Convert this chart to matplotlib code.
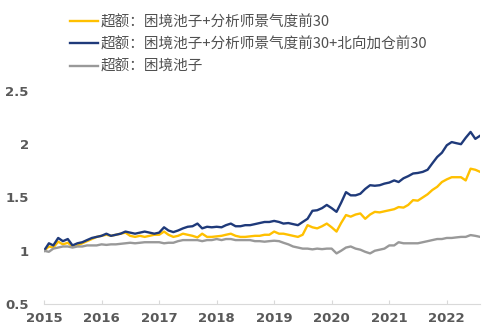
import pandas as pd
import matplotlib.pyplot as plt

plt.rcParams['font.family'] = ['Noto Sans CJK SC', 'DejaVu Sans']

# monthly points, Jan 2015 - Aug 2022
dates = pd.date_range('2015-01-01', '2022-08-01', freq='MS')

blue = [1.00, 1.07, 1.05, 1.12, 1.09, 1.11, 1.05, 1.07, 1.08, 1.10, 1.12, 1.13,
        1.14, 1.16, 1.14, 1.15, 1.16, 1.18, 1.17, 1.16, 1.17, 1.18, 1.17, 1.16,
        1.17, 1.22, 1.19, 1.175, 1.19, 1.21, 1.225, 1.23, 1.255, 1.21, 1.225, 1.22,
        1.225, 1.22, 1.24, 1.255, 1.23, 1.23, 1.24, 1.24, 1.25, 1.26, 1.27, 1.27,
        1.28, 1.27, 1.255, 1.26, 1.25, 1.24, 1.27, 1.30, 1.375, 1.38, 1.40, 1.43,
        1.40, 1.365, 1.45, 1.55, 1.52, 1.52, 1.535, 1.58, 1.615, 1.61, 1.615, 1.63,
        1.64, 1.66, 1.645, 1.68, 1.70, 1.725, 1.73, 1.74, 1.76, 1.82, 1.88, 1.92,
        1.99, 2.02, 2.01, 2.00, 2.06, 2.115, 2.05, 2.08]

yellow = [1.00, 1.04, 1.03, 1.085, 1.06, 1.075, 1.04, 1.05, 1.07, 1.09, 1.11, 1.13,
          1.14, 1.15, 1.14, 1.15, 1.16, 1.17, 1.14, 1.13, 1.14, 1.13, 1.14, 1.15,
          1.15, 1.18, 1.15, 1.13, 1.14, 1.16, 1.15, 1.14, 1.125, 1.16, 1.13, 1.13,
          1.135, 1.14, 1.15, 1.16, 1.14, 1.13, 1.13, 1.135, 1.14, 1.14, 1.15, 1.15,
          1.18, 1.16, 1.16, 1.15, 1.14, 1.13, 1.15, 1.24, 1.22, 1.21, 1.23, 1.255,
          1.22, 1.18, 1.26, 1.335, 1.32, 1.34, 1.35, 1.30, 1.34, 1.365, 1.36, 1.37,
          1.38, 1.39, 1.41, 1.405, 1.43, 1.475, 1.47, 1.50, 1.53, 1.57, 1.60, 1.645,
          1.67, 1.69, 1.69, 1.69, 1.66, 1.77, 1.76, 1.74]

gray = [1.00, 0.99, 1.02, 1.03, 1.04, 1.04, 1.03, 1.04, 1.04, 1.05, 1.05, 1.05,
        1.06, 1.055, 1.06, 1.06, 1.065, 1.07, 1.075, 1.07, 1.075, 1.08, 1.08, 1.08,
        1.08, 1.07, 1.075, 1.075, 1.09, 1.10, 1.10, 1.10, 1.10, 1.09, 1.10, 1.10,
        1.11, 1.10, 1.11, 1.11, 1.10, 1.10, 1.10, 1.10, 1.09, 1.09, 1.085, 1.09,
        1.094, 1.09, 1.075, 1.06, 1.04, 1.03, 1.02, 1.02, 1.013, 1.02, 1.015, 1.02,
        1.02, 0.975, 1.00, 1.03, 1.04, 1.02, 1.01, 0.99, 0.975, 1.00, 1.01, 1.02,
        1.05, 1.05, 1.08, 1.07, 1.07, 1.07, 1.07, 1.08, 1.09, 1.10, 1.11, 1.11,
        1.12, 1.12, 1.125, 1.13, 1.13, 1.147, 1.14, 1.13]

labels = ['超额：困境池子+分析师景气度前30',
          '超额：困境池子+分析师景气度前30+北向加仓前30',
          '超额：困境池子']
years = [str(y) for y in range(2015, 2023)]

fig = plt.figure(figsize=(4.89, 3.33), dpi=100)
ax = fig.add_axes([0.09, 0.087, 0.892, 0.64])

ax.plot(dates, yellow, color='#FFC000', lw=1.7, label=labels[0])
ax.plot(dates, blue, color='#1F3A7A', lw=1.7, label=labels[1])
ax.plot(dates, gray, color='#999999', lw=1.7, label=labels[2])

ax.set_ylim(0.5, 2.5)
ax.set_yticks([0.5, 1, 1.5, 2, 2.5])
ax.set_yticklabels(['0.5', '1', '1.5', '2', '2.5'])
ax.set_xlim(pd.Timestamp('2015-01-01'), pd.Timestamp('2022-08-01'))
ax.set_xticks([pd.Timestamp(y + '-01-01') for y in years])
ax.set_xticklabels(years)

for s in ['top', 'right', 'left']:
    ax.spines[s].set_visible(False)
ax.spines['bottom'].set_color('#D9D9D9')
ax.tick_params(axis='y', length=0, pad=11)
ax.tick_params(axis='x', direction='in', length=3, color='#D9D9D9', pad=6)
for lab in ax.get_xticklabels() + ax.get_yticklabels():
    lab.set_family(['Liberation Sans Narrow', 'DejaVu Sans'])
    lab.set_fontweight('bold')
    lab.set_fontsize(9.5)
    lab.set_color('#595959')

leg = ax.legend(loc='upper left', bbox_to_anchor=(0.12, 0.99), bbox_transform=fig.transFigure,
                frameon=False, fontsize=10.5, handlelength=1.9, handletextpad=0.2,
                labelspacing=0.55, borderpad=0.3)
for t in leg.get_texts():
    t.set_color('#505050')

fig.savefig('out.png', dpi=100)
